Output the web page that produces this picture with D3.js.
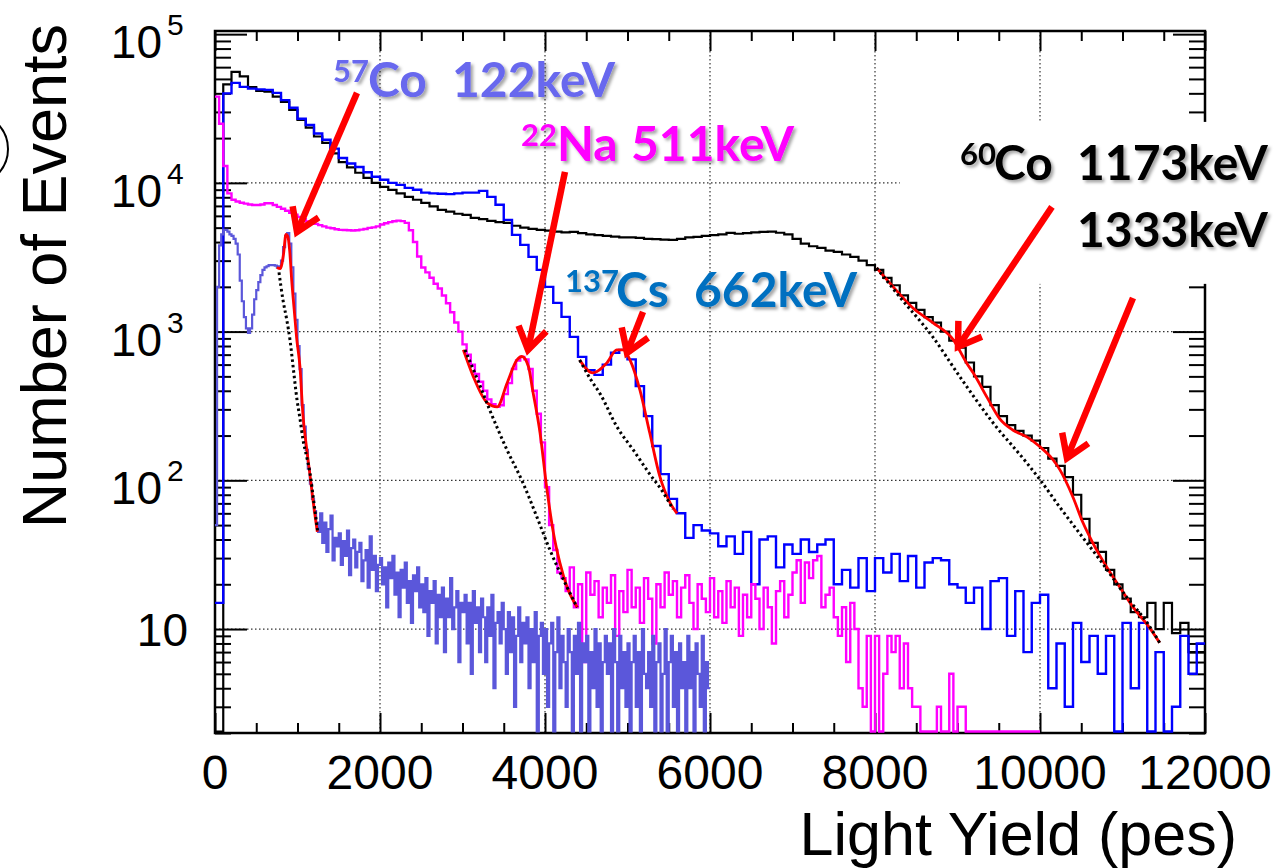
<!DOCTYPE html>
<html>
<head>
<meta charset="utf-8">
<script src="https://cdn.jsdelivr.net/npm/d3@7"></script>
<style>
  html, body { margin: 0; padding: 0; background: #fff; }
  svg { display: block; }
</style>
</head>
<body>
<svg id="chart" width="1283" height="868"></svg>
<script>
// ---- data (light yield in pes, counts per bin) ----
const mainBinWidth = 100
const na22BinWidth = 50
const co57BinWidth = 25

// 60Co spectrum (black), 100 pes bins
const co60Counts = [
  2, 46000, 55700, 52000, 44000, 41600, 41000, 38000, 35000, 31000,
  26500, 23500, 20500, 18600, 15800, 13800, 12700, 11700, 10800, 10000,
  9400, 8980, 8500, 8050, 7700, 7340, 6950, 6580, 6400, 6200,
  6090, 5820, 5700, 5550, 5450, 5380, 5150, 5000, 4900, 4830,
  4780, 4700, 4650, 4680, 4600, 4500, 4450, 4400, 4350, 4300,
  4300, 4270, 4200, 4180, 4150, 4140, 4200, 4300, 4330, 4400,
  4450, 4500, 4610, 4550, 4600, 4650, 4680, 4700, 4620, 4500,
  4200, 3900, 3750, 3650, 3500, 3440, 3300, 3180, 3000, 2800,
  2600, 2300, 2050, 1750, 1560, 1400, 1250, 1150, 1000, 870,
  780, 620, 500, 425, 320, 270, 235, 215, 200, 185,
  165, 140, 125, 105, 80, 55, 38, 33, 25, 20,
  16, 13, 12, 15, 10, 15, 9.4, 11, 7, 7
]

// 137Cs spectrum (blue), 100 pes bins
const cs137Counts = [
  15, 40000, 47000, 44200, 43000, 42500, 42200, 40300, 36000, 32000,
  27000, 24500, 21500, 19500, 17000, 14700, 13500, 12800, 11800, 11000,
  10500, 10000, 9700, 9260, 9000, 8600, 8500, 8450, 8400, 8500,
  8600, 8600, 8840, 8050, 7120, 5640, 4470, 3830, 3180, 2600,
  2000, 1560, 1256, 921, 676, 550, 512, 600, 720, 754,
  650, 430, 270, 170, 110, 75, 60, 41, 50, 46,
  44, 36, 42, 32, 45, 20, 40, 42, 26, 37,
  32, 40, 33, 37, 40, 20, 25, 19, 30, 18,
  30, 24, 32, 21, 31, 19, 28, 30, 29, 20,
  19, 15, 19, 10, 21, 22, 9, 18, 7, 15,
  17, 4, 8, 3, 11, 6, 9, 5, 9, 0,
  11, 4, 11, 0, 7, 0, 3, 9, 5, 8
]

// 22Na spectrum (magenta), 50 pes bins, 0-10000 pes
const na22Counts = [
  38000, 25000, 13000, 8500, 7700, 7500, 7350, 7250, 7150, 7100,
  7100, 7150, 7300, 7300, 7100, 6900, 6700, 6500, 6300, 6100,
  5900, 5700, 5500, 5400, 5300, 5200, 5100, 5000, 4950, 4880,
  4830, 4820, 4800, 4780, 4800, 4850, 4900, 4980, 5020, 5100,
  5250, 5350, 5450, 5520, 5570, 5530, 5380, 4800, 4000, 3200,
  2700, 2500, 2300, 2100, 1950, 1750, 1550, 1350, 1150, 1000,
  820, 700, 600, 520, 460, 400, 350, 325, 312, 320,
  380, 450, 560, 640, 676, 650, 560, 400, 280, 180,
  90, 50, 34, 24, 22, 18, 26, 14, 20, 6,
  24, 17, 21, 12, 19, 15, 23, 9, 18, 13,
  25, 14, 19, 11, 22, 16, 8, 20, 14, 24,
  17, 21, 12, 19, 23, 15, 10, 20, 16, 13,
  22, 12, 18, 11, 21, 14, 19, 9, 17, 12,
  20, 16, 10, 19, 14, 8, 18, 21, 12, 17,
  24, 29, 15, 28, 22, 29, 31, 14, 17, 19,
  12, 9, 14, 6, 15, 10, 4, 3, 9, 0,
  9, 0, 5, 9, 7, 9, 4, 8, 4, 3,
  3, 0, 0, 0, 0, 3, 0, 0, 5, 0,
  3, 3, 0, 0, 0, 0, 0, 0, 0, 0,
  0, 0, 0, 0, 0, 0, 0, 0, 0, 0
]

// 57Co spectrum (periwinkle), 25 pes bins, 0-6000 pes
const co57Counts = [
  50, 2000, 3800, 4500, 4830, 4830, 4700, 4500, 4400, 4200,
  3900, 3300, 2200, 1600, 1250, 1050, 980, 1050, 1300, 1650,
  1900, 2150, 2400, 2600, 2700, 2750, 2800, 2800, 2800, 2780,
  2700, 2750, 3000, 3700, 4400, 4600, 3900, 2700, 1800, 1200,
  800, 560, 320, 230, 160, 120, 95, 75, 62, 52,
  45, 60, 38, 52, 33, 47, 58, 29, 41, 36,
  44, 27, 39, 31, 46, 23, 35, 40, 26, 33,
  38, 21, 29, 34, 19, 42, 25, 31, 18, 27,
  30, 20, 26, 14, 28, 22, 31, 17, 24, 12,
  25, 19, 28, 15, 21, 11, 23, 18, 26, 14,
  20, 13, 22, 9, 18, 15, 21, 8, 17, 12,
  19, 7, 16, 12, 22, 10, 14, 18, 6, 15,
  13, 17, 8, 15, 5, 18, 11, 14, 7, 16,
  12, 6, 14, 9, 17, 4, 11, 13, 8, 15,
  10, 5, 13, 7, 12, 3, 9, 14, 6, 11,
  8, 12, 4, 10, 6, 13, 2, 9, 11, 5,
  10, 3, 8, 11, 0, 7, 12, 4, 9, 6,
  3, 10, 7, 0, 9, 5, 11, 2, 8, 6,
  9, 0, 7, 4, 10, 3, 8, 0, 6, 9,
  5, 8, 2, 10, 6, 0, 9, 4, 7, 3,
  8, 0, 6, 9, 3, 7, 0, 10, 5, 4,
  7, 3, 9, 0, 6, 8, 2, 5, 10, 0,
  6, 9, 3, 7, 0, 8, 4, 6, 2, 9,
  4, 7, 0, 8, 5, 3, 9, 0, 6, 4
]

// fitted peak + background (red) and background only (dotted), [pes, counts]
const fitCo57 = [[750, 2700], [790, 2650], [830, 3300], [860, 4500], [880, 4400], [905, 3500], [930, 2200], [960, 1400], [990, 900], [1030, 580], [1065, 280], [1110, 165], [1150, 110], [1190, 72], [1240, 45]]
const bkgCo57 = [[776, 2500], [824, 1630], [870, 1200], [909, 880], [950, 560], [994, 348], [1030, 260], [1067, 187], [1110, 145], [1151, 112], [1200, 70], [1248, 44]]
const fitNa22 = [[3010, 754], [3130, 500], [3300, 332], [3420, 312], [3540, 450], [3660, 645], [3720, 680], [3800, 580], [3850, 405], [3940, 208], [4020, 90], [4100, 45], [4180, 28], [4270, 19], [4390, 14]]
const bkgNa22 = [[3030, 754], [3180, 480], [3330, 297], [3540, 160], [3730, 97], [3900, 57], [4060, 34], [4270, 19], [4390, 14]]
const fitCs137 = [[4420, 645], [4580, 528], [4750, 616], [4870, 754], [4950, 754], [5030, 645], [5150, 405], [5270, 208], [5390, 107], [5520, 70], [5600, 60]]
const bkgCs137 = [[4420, 645], [4550, 480], [4670, 380], [4870, 230], [5070, 160], [5270, 110], [5420, 85], [5550, 64]]
const fitCo60 = [[8020, 2680], [8220, 2000], [8460, 1440], [8700, 1150], [8950, 880], [9110, 616], [9190, 528], [9360, 360], [9510, 260], [9670, 218], [9840, 196], [10000, 168], [10160, 137], [10240, 118], [10400, 77], [10520, 52], [10640, 38], [10810, 26], [10970, 19], [11130, 14], [11300, 10.7], [11450, 8.1]]
const bkgCo60 = [[8020, 2680], [8300, 1710], [8700, 921], [9030, 496], [9430, 244], [9840, 131], [10000, 101], [10240, 66], [10480, 44], [10730, 29], [11050, 16.4], [11300, 11], [11450, 8.1]]

// axis ticks / labels
const xTickLabels = ["0", "2000", "4000", "6000", "8000", "10000", "12000"]
const yTickExponents = [1, 2, 3, 4, 5]

// annotations: [start pes, start counts] -> [tip pes, tip counts]
const arrows = [
  [[1721, 40300], [994, 4680]],
  [[4242, 11860], [3794, 754]],
  [[5188, 1357], [4994, 719]],
  [[10145, 6900], [9006, 789]],
  [[11127, 1685], [10327, 141]]
]
// label parts: isotope number, element, energy; x positions in pes, baseline in counts
const peakLabels = [
  { iso: "57", el: "Co", energy: "122keV", isoX: 1430, elX: 1855, enX: 2873, base: 37900, color: "#6767ee" },
  { iso: "22", el: "Na", energy: "511keV", isoX: 3709, elX: 4145, enX: 5042, base: 14060, color: "#ff00ff" },
  { iso: "137", el: "Cs", energy: "662keV", isoX: 4242, elX: 4861, enX: 5806, base: 1466, color: "#0070c0" },
  { iso: "60", el: "Co", energy: "1173keV", isoX: 9030, elX: 9442, enX: 10448, base: 10470, color: "#000000" },
  { iso: "", el: "", energy: "1333keV", isoX: 0, elX: 0, enX: 10448, base: 3715, color: "#000000" }
]

// ---- drawing ----
const W = 1283, H = 868
const margin = { top: 31, right: 78, bottom: 135, left: 215 }

const svg = d3.select("#chart")

const x = d3.scaleLinear().domain([0, 12000]).range([margin.left, W - margin.right])
const y = d3.scaleLog().domain([2, 1.05e5]).range([H - margin.bottom, margin.top])
const yBottom = H - margin.bottom
const yc = v => v > 0 ? Math.min(y(v), yBottom - 1.5) : yBottom - 1.5

const defs = svg.append("defs")
defs.append("clipPath").attr("id", "plotclip")
  .append("rect")
  .attr("x", margin.left).attr("y", margin.top)
  .attr("width", W - margin.left - margin.right)
  .attr("height", H - margin.top - margin.bottom)
const shadow = defs.append("filter").attr("id", "shadow")
  .attr("x", "-10%").attr("y", "-20%").attr("width", "130%").attr("height", "150%")
shadow.append("feDropShadow")
  .attr("dx", 2.5).attr("dy", 2.5).attr("stdDeviation", 1.6)
  .attr("flood-color", "#000").attr("flood-opacity", 0.35)

// grid
const xGrid = d3.range(2000, 12000, 2000)
const yGrid = [10, 100, 1000, 10000]
const grid = svg.append("g").attr("stroke", "#333").attr("stroke-width", 1.2).attr("stroke-dasharray", "1.5,2.5")
grid.selectAll(".gx").data(xGrid).enter().append("line")
  .attr("x1", d => x(d)).attr("x2", d => x(d))
  .attr("y1", margin.top).attr("y2", yBottom)
grid.selectAll(".gy").data(yGrid).enter().append("line")
  .attr("x1", margin.left).attr("x2", W - margin.right)
  .attr("y1", d => y(d)).attr("y2", d => y(d))

// ticks
const xMajor = d3.range(0, 12001, 2000)
const xMinor = d3.range(0, 12001, 500).filter(v => v % 2000 !== 0)
const yMajor = yTickExponents.map(e => Math.pow(10, e))
let yMinor = []
for (let e = 0; e <= 4; e++) {
  for (let k = 2; k <= 9; k++) {
    const v = k * Math.pow(10, e)
    if (v >= 2 && v <= 1.05e5) yMinor.push(v)
  }
}

function tickAxis(axis, tf) {
  const g = svg.append("g").attr("transform", tf).call(axis.tickFormat(""))
  g.select(".domain").remove()
  g.selectAll("line").attr("stroke", "#000").attr("stroke-width", 2)
}
tickAxis(d3.axisBottom(x).tickValues(xMajor).tickSizeInner(-20).tickSizeOuter(0), `translate(0,${yBottom})`)
tickAxis(d3.axisBottom(x).tickValues(xMinor).tickSizeInner(-10).tickSizeOuter(0), `translate(0,${yBottom})`)
tickAxis(d3.axisTop(x).tickValues(xMajor).tickSizeInner(-20).tickSizeOuter(0), `translate(0,${margin.top})`)
tickAxis(d3.axisTop(x).tickValues(xMinor).tickSizeInner(-10).tickSizeOuter(0), `translate(0,${margin.top})`)
tickAxis(d3.axisLeft(y).tickValues(yMajor).tickSizeInner(-32).tickSizeOuter(0), `translate(${margin.left},0)`)
tickAxis(d3.axisLeft(y).tickValues(yMinor).tickSizeInner(-16).tickSizeOuter(0), `translate(${margin.left},0)`)
tickAxis(d3.axisRight(y).tickValues(yMajor).tickSizeInner(-32).tickSizeOuter(0), `translate(${W - margin.right},0)`)
tickAxis(d3.axisRight(y).tickValues(yMinor).tickSizeInner(-16).tickSizeOuter(0), `translate(${W - margin.right},0)`)

// frame
svg.append("rect")
  .attr("x", margin.left).attr("y", margin.top)
  .attr("width", W - margin.left - margin.right)
  .attr("height", H - margin.top - margin.bottom)
  .attr("fill", "none").attr("stroke", "#000").attr("stroke-width", 2.5)

// white box behind the 60Co label
svg.append("rect")
  .attr("x", x(8300)).attr("y", y(25700))
  .attr("width", W - x(8300)).attr("height", y(2094) - y(25700))
  .attr("fill", "#fff")

// histograms
function stepPath(counts, w) {
  const pts = counts.map((c, i) => [i * w, c])
  pts.push([counts.length * w, counts[counts.length - 1]])
  return d3.line().x(d => x(d[0])).y(d => yc(d[1])).curve(d3.curveStepAfter)(pts)
}
const plot = svg.append("g").attr("clip-path", "url(#plotclip)")
const series = [
  [co60Counts, mainBinWidth, "#000000", 2.2],
  [cs137Counts, mainBinWidth, "#0000ff", 2.4],
  [na22Counts, na22BinWidth, "#ff00ff", 2.4],
  [co57Counts, co57BinWidth, "#5b57da", 2.2]
]
series.forEach(s => {
  plot.append("path")
    .attr("d", stepPath(s[0], s[1]))
    .attr("fill", "none").attr("stroke", s[2]).attr("stroke-width", s[3])
    .attr("stroke-linejoin", "miter")
})

const smooth = d3.line().x(d => x(d[0])).y(d => y(d[1])).curve(d3.curveMonotoneX)
;[fitCo57, fitNa22, fitCs137, fitCo60].forEach(f => {
  plot.append("path").attr("d", smooth(f))
    .attr("fill", "none").attr("stroke", "#ff0000").attr("stroke-width", 2.8)
})
;[bkgCo57, bkgNa22, bkgCs137, bkgCo60].forEach(f => {
  plot.append("path").attr("d", smooth(f))
    .attr("fill", "none").attr("stroke", "#000").attr("stroke-width", 3)
    .attr("stroke-dasharray", "2.5,3")
})

// arrows
const arrowG = svg.append("g").attr("stroke", "#ff0000").attr("stroke-width", 6.5).attr("fill", "none")
arrows.forEach(a => {
  const x0 = x(a[0][0]), y0 = y(a[0][1]), x1 = x(a[1][0]), y1 = y(a[1][1])
  const ang = Math.atan2(y0 - y1, x0 - x1)
  const len = 26, spread = 33 * Math.PI / 180
  const b1 = [x1 + len * Math.cos(ang - spread), y1 + len * Math.sin(ang - spread)]
  const b2 = [x1 + len * Math.cos(ang + spread), y1 + len * Math.sin(ang + spread)]
  arrowG.append("line").attr("x1", x0).attr("y1", y0).attr("x2", x1).attr("y2", y1)
  arrowG.append("path")
    .attr("d", `M${b1[0]},${b1[1]}L${x1},${y1}L${b2[0]},${b2[1]}`)
    .attr("stroke-linejoin", "miter")
})

// peak labels
const lab = svg.append("g").attr("font-family", "Lato, 'Open Sans', sans-serif").attr("font-weight", 700)
  .attr("filter", "url(#shadow)")
peakLabels.forEach(p => {
  const by = y(p.base)
  if (p.iso) {
    lab.append("text").attr("x", x(p.isoX)).attr("y", by - 15)
      .attr("fill", p.color).attr("font-size", 31).text(p.iso)
    lab.append("text").attr("x", x(p.elX)).attr("y", by)
      .attr("fill", p.color).attr("font-size", 48).text(p.el)
  }
  lab.append("text").attr("x", x(p.enX)).attr("y", by)
    .attr("fill", p.color).attr("font-size", 48).text(p.energy)
})

// axis labels
const axisFont = "'Liberation Sans', Arial, Helvetica, sans-serif"
svg.append("g").selectAll("text").data(xTickLabels).enter().append("text")
  .attr("x", (d, i) => x(xMajor[i])).attr("y", 789)
  .attr("text-anchor", "middle").attr("font-family", axisFont).attr("font-size", 48)
  .text(d => d)

yTickExponents.forEach(e => {
  const v = Math.pow(10, e)
  if (e === 1) {
    svg.append("text").attr("x", 188).attr("y", y(v) + 17)
      .attr("text-anchor", "end").attr("font-family", axisFont).attr("font-size", 46).text("10")
  } else {
    svg.append("text").attr("x", 162).attr("y", y(v) + 24)
      .attr("text-anchor", "end").attr("font-family", axisFont).attr("font-size", 46).text("10")
    svg.append("text").attr("x", 167).attr("y", y(v) + 1)
      .attr("font-family", axisFont).attr("font-size", 30).text(String(e))
  }
})

svg.append("text")
  .attr("x", 1237).attr("y", 855)
  .attr("text-anchor", "end").attr("font-family", axisFont).attr("font-size", 61)
  .text("Light Yield (pes)")

svg.append("text")
  .attr("transform", "translate(66,24) rotate(-90)")
  .attr("text-anchor", "end").attr("font-family", axisFont).attr("font-size", 63)
  .text("Number of Events")

// clipped circle at the left edge
svg.append("circle").attr("cx", -28).attr("cy", 149).attr("r", 36)
  .attr("fill", "none").attr("stroke", "#000").attr("stroke-width", 2)
</script>
</body>
</html>
